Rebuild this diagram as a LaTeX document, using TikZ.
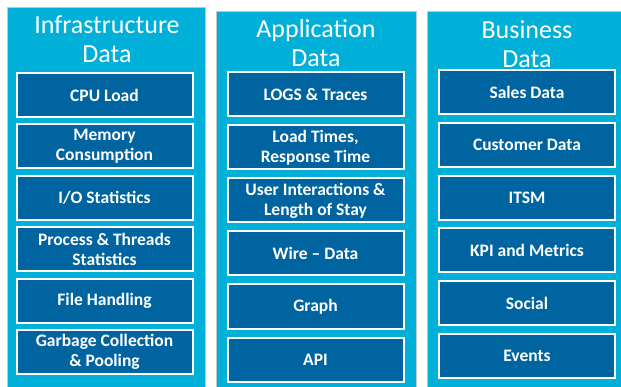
\documentclass[tikz,border=0pt]{standalone}
\usepackage{fontspec}
\setmainfont{Carlito}
\usepackage{tikz}
\usetikzlibrary{positioning}
\definecolor{SkyB}{RGB}{0,176,216}
\definecolor{DeepB}{RGB}{0,100,160}
\definecolor{EdgeG}{RGB}{190,200,205}

\begin{document}
\begin{tikzpicture}[
  x=1pt, y=-1pt,
  panel/.style={draw=EdgeG, line width=0.8pt, fill=SkyB, anchor=north west,
                inner sep=0pt},
  title/.style={text=white, align=center, anchor=base,
                font=\fontsize{26}{29}\selectfont},
  box/.style={draw=white, line width=2pt, fill=DeepB, text=white,
              minimum width=176pt, minimum height=#1, inner sep=0pt,
              align=center, font=\fontsize{17.5}{20}\selectfont\bfseries},
  box/.default=44pt
]
\useasboundingbox (0,0) rectangle (621,387);

% Panels
\node[panel, minimum width=198pt, minimum height=382pt] (infra) at (7,7)   {};
\node[panel, minimum width=200pt, minimum height=378pt] (app)   at (216,11) {};
\node[panel, minimum width=196pt, minimum height=378pt] (biz)   at (427,11) {};

% Infrastructure column (base = last line)
\node[title] (infraT) at (107,63) {Infrastructure\\Data};
\node[box] (cpu)  at (104.5, 95)   {CPU Load};
\node[box] (mem)  at (104.5,146.4) {Memory\\Consumption};
\node[box] (io)   at (104.5,197.8) {I/O Statistics};
\node[box] (proc) at (104.5,249.2) {Process \& Threads\\Statistics};
\node[box] (file) at (104.5,300.6) {File Handling};
\node[box] (gc)   at (104.5,352)   {Garbage Collection\\\& Pooling};

% Application column
\node[title] (appT) at (316,67) {Application\\Data};
\node[box] (logs)  at (315.5, 94.5) {LOGS \& Traces};
\node[box] (load)  at (315.5,147.5) {Load Times,\\Response Time};
\node[box] (user)  at (315.5,200.5) {User Interactions \&\\Length of Stay};
\node[box] (wire)  at (315.5,253.5) {Wire -- Data};
\node[box] (graph) at (315.5,306.5) {Graph};
\node[box] (api)   at (315.5,359.5) {API};

% Business column
\node[title] (bizT) at (527,68) {Business\\Data};
\node[box] (sales)  at (527, 92)   {Sales Data};
\node[box] (cust)   at (527,144.8) {Customer Data};
\node[box] (itsm)   at (527,197.6) {ITSM};
\node[box] (kpi)    at (527,250.4) {KPI and Metrics};
\node[box] (social) at (527,303.2) {Social};
\node[box] (events) at (527,356)   {Events};
\end{tikzpicture}
\end{document}
